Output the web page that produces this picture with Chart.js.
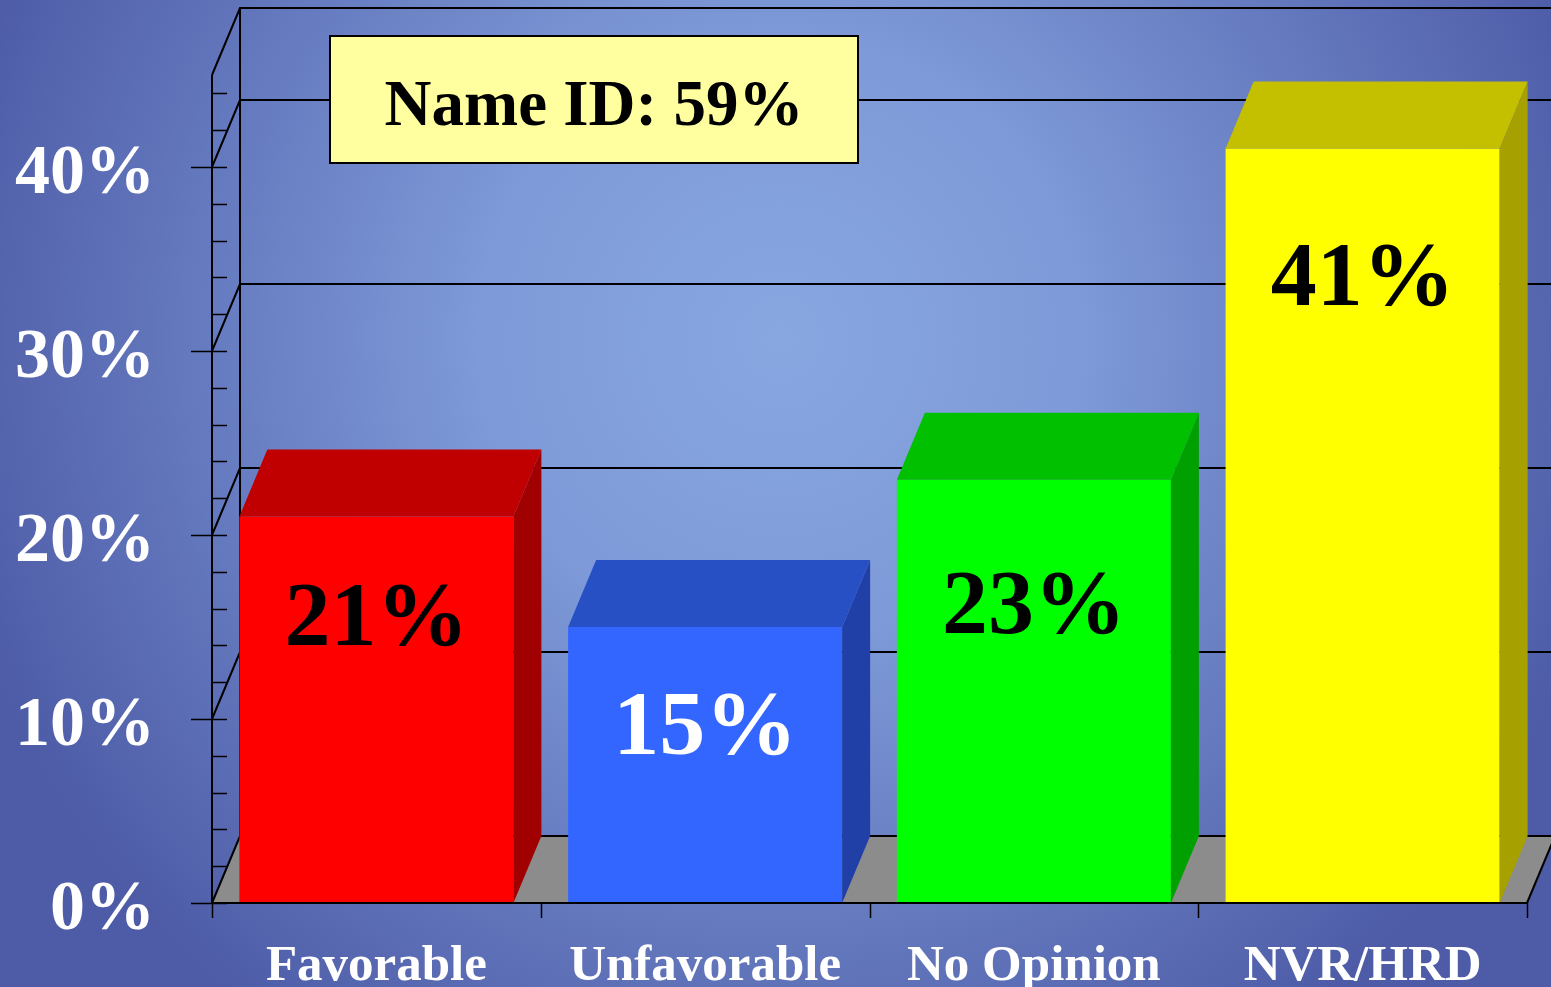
<!DOCTYPE html>
<html>
<head>
<meta charset="utf-8">
<script src="https://cdn.jsdelivr.net/npm/chart.js@4.4.1/dist/chart.umd.min.js"></script>
<style>
  html, body { margin: 0; padding: 0; background: #4e5ca7; }
  #wrap { width: 1551px; height: 987px; }
</style>
</head>
<body>
<div id="wrap"><canvas id="chart" width="1551" height="987"></canvas></div>
<script>
// data
const categories = ['Favorable', 'Unfavorable', 'No Opinion', 'NVR/HRD'];
const values = [21, 15, 23, 41];
const valueLabels = ['21%', '15%', '23%', '41%'];
const yTicks = [0, 10, 20, 30, 40];
const nameIdText = 'Name ID: 59%';

// styles
const frontColors = ['#ff0000', '#3366ff', '#00ff00', '#ffff00'];
const topColors = ['#c00000', '#2650c4', '#00c000', '#c4c000'];
const sideColors = ['#a00000', '#2040a8', '#00a000', '#a6a000'];
const labelColors = ['#000000', '#ffffff', '#000000', '#000000'];
const labelDrop = [128, 127, 153, 156];
const DX = 28, DY = 67;
const FONT = '"Liberation Serif", "Times New Roman", serif';

const threeD = {
    id: 'threeD',
    beforeDraw(chart) {
        const ctx = chart.ctx;
        const W = chart.width, H = chart.height;
        const g = ctx.createRadialGradient(780, 340, 0, 780, 340, 850);
        g.addColorStop(0, '#88a7e1');
        g.addColorStop(0.35, '#7e9ad8');
        g.addColorStop(1, '#4e5ca7');
        ctx.save();
        ctx.fillStyle = g;
        ctx.fillRect(0, 0, W, H);
        ctx.restore();
    },
    beforeDatasetsDraw(chart) {
        const ctx = chart.ctx;
        const y = chart.scales.y;
        const a = chart.chartArea;
        const W = chart.width;
        const yTop = y.getPixelForValue(y.max);
        const y0 = y.getPixelForValue(0);
        ctx.save();

        // floor
        ctx.fillStyle = '#8c8c8c';
        ctx.beginPath();
        ctx.moveTo(a.left, y0);
        ctx.lineTo(a.left + DX, y0 - DY);
        ctx.lineTo(a.right + DX, y0 - DY);
        ctx.lineTo(a.right, y0);
        ctx.closePath();
        ctx.fill();

        ctx.strokeStyle = '#000';
        ctx.lineWidth = 2;
        // back wall grid lines + side wall diagonals
        const lines = yTicks.concat([y.max]);
        lines.forEach(v => {
            const py = y.getPixelForValue(v);
            ctx.beginPath();
            ctx.moveTo(a.left, py);
            ctx.lineTo(a.left + DX, py - DY);
            ctx.lineTo(v === 0 ? a.right + DX : W, py - DY);
            ctx.stroke();
        });
        // back wall vertical
        ctx.beginPath();
        ctx.moveTo(a.left + DX, yTop - DY);
        ctx.lineTo(a.left + DX, y0 - DY);
        ctx.stroke();
        // floor right edge
        ctx.beginPath();
        ctx.moveTo(a.right, y0);
        ctx.lineTo(a.right + DX, y0 - DY);
        ctx.stroke();
        ctx.restore();
    },
    afterDatasetsDraw(chart) {
        const ctx = chart.ctx;
        const meta = chart.getDatasetMeta(0);
        const y = chart.scales.y, x = chart.scales.x;
        const a = chart.chartArea;
        ctx.save();
        meta.data.forEach((el, i) => {
            const p = el.getProps(['x', 'y', 'base', 'width'], true);
            const l = p.x - p.width / 2, r = p.x + p.width / 2;
            // side face
            ctx.fillStyle = sideColors[i];
            ctx.beginPath();
            ctx.moveTo(r, p.y);
            ctx.lineTo(r + DX, p.y - DY);
            ctx.lineTo(r + DX, p.base - DY);
            ctx.lineTo(r, p.base);
            ctx.closePath();
            ctx.fill();
            // top face
            ctx.fillStyle = topColors[i];
            ctx.beginPath();
            ctx.moveTo(l, p.y);
            ctx.lineTo(r, p.y);
            ctx.lineTo(r + DX, p.y - DY);
            ctx.lineTo(l + DX, p.y - DY);
            ctx.closePath();
            ctx.fill();
            // value label
            ctx.fillStyle = labelColors[i];
            ctx.font = 'bold 92px ' + FONT;
            ctx.textAlign = 'center';
            ctx.textBaseline = 'alphabetic';
            ctx.fillText(valueLabels[i], p.x, p.y + labelDrop[i]);
        });

        // front axes
        const yTop = y.getPixelForValue(y.max);
        const y0 = y.getPixelForValue(0);
        ctx.strokeStyle = '#000';
        ctx.lineWidth = 2;
        ctx.beginPath();
        ctx.moveTo(a.left, yTop);
        ctx.lineTo(a.left, y0);
        ctx.lineTo(a.right, y0);
        ctx.stroke();
        // y tick marks
        ctx.lineWidth = 1.5;
        for (let v = 0; v <= y.max; v += 2) {
            const py = Math.round(y.getPixelForValue(v)) + 0.5;
            const major = v % 10 === 0;
            ctx.beginPath();
            ctx.moveTo(major ? a.left - 21 : a.left, py);
            ctx.lineTo(a.left + 15, py);
            ctx.stroke();
        }
        // x tick marks
        for (let i = 0; i <= categories.length; i++) {
            const px = Math.round(x.getPixelForValue(i - 0.5)) + 0.5;
            ctx.beginPath();
            ctx.moveTo(px, y0);
            ctx.lineTo(px, y0 + 15);
            ctx.stroke();
        }
        ctx.restore();
    },
    afterDraw(chart) {
        const ctx = chart.ctx;
        ctx.save();
        ctx.fillStyle = '#ffffa0';
        ctx.fillRect(330, 36, 528, 127);
        ctx.strokeStyle = '#000';
        ctx.lineWidth = 2;
        ctx.strokeRect(330, 36, 528, 127);
        ctx.fillStyle = '#000';
        ctx.font = 'bold 65px ' + FONT;
        ctx.textAlign = 'center';
        ctx.textBaseline = 'alphabetic';
        ctx.fillText(nameIdText, 594, 125);
        ctx.restore();
    }
};

new Chart(document.getElementById('chart').getContext('2d'), {
    type: 'bar',
    data: {
        labels: categories,
        datasets: [{
            data: values,
            backgroundColor: frontColors,
            borderWidth: 0,
            barPercentage: 0.8335,
            categoryPercentage: 1
        }]
    },
    options: {
        responsive: false,
        animation: false,
        layout: { padding: { top: 75, right: 24, left: 0, bottom: 0 } },
        plugins: { legend: { display: false }, tooltip: { enabled: false } },
        scales: {
            x: {
                grid: { display: false, drawTicks: false },
                border: { display: false },
                ticks: {
                    color: '#ffffff',
                    font: { family: FONT, size: 51, weight: 'bold' },
                    padding: 33,
                    maxRotation: 0,
                    autoSkip: false
                },
                afterFit(scale) {
                    scale.height = 84;
                    scale.paddingLeft = scale.paddingRight = 0;
                }
            },
            y: {
                min: 0,
                max: 45,
                grid: { display: false, drawTicks: false },
                border: { display: false },
                afterBuildTicks(scale) {
                    scale.ticks = yTicks.map(v => ({ value: v }));
                },
                ticks: {
                    color: '#ffffff',
                    font: { family: FONT, size: 70, weight: 'bold', lineHeight: 0.23 },
                    padding: 57,
                    // empty first line nudges the label a little below its tick
                    callback: v => ['', v + '%']
                },
                afterFit(scale) {
                    scale.width = 212;
                    scale.paddingTop = scale.paddingBottom = 0;
                }
            }
        }
    },
    plugins: [threeD]
});
</script>
</body>
</html>
